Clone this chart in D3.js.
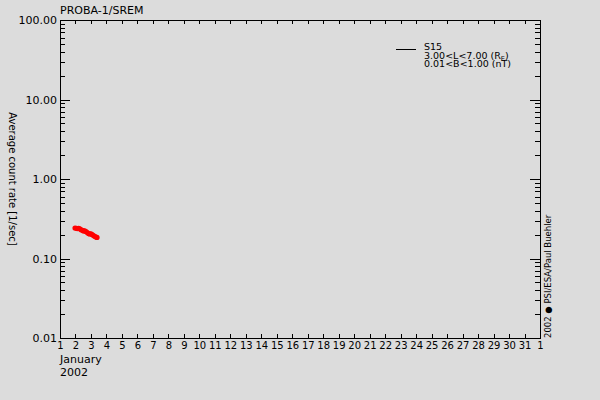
<!DOCTYPE html>
<html>
<head>
<meta charset="utf-8">
<script src="https://cdn.jsdelivr.net/npm/d3@7"></script>
<style>
  body { margin: 0; background: #dcdcdc; }
  text { font-family: "DejaVu Sans", sans-serif; fill: #000; }
</style>
</head>
<body>
<script>
// Data
var days  = [1.97, 2.05, 2.12, 2.2, 2.28, 2.36, 2.44, 2.52, 2.6, 2.68, 2.76, 2.84, 2.92, 3.0, 3.08, 3.16, 3.24, 3.32, 3.39];
var rates = [0.242, 0.240, 0.238, 0.240, 0.236, 0.230, 0.226, 0.222, 0.222, 0.218, 0.212, 0.206, 0.204, 0.204, 0.200, 0.194, 0.190, 0.186, 0.184];
var dayTicks = d3.range(1, 33);
var dayLabels = d3.range(1, 32).map(String).concat(["1"]);
var rateTicks = [0.01, 0.1, 1, 10, 100];
var rateLabels = ["0.01", "0.10", "1.00", "10.00", "100.00"];
var legendLines = ["S15", "3.00<L<7.00 (R", "0.01<B<1.00 (nT)"];

var width = 600;
var height = 400;
var plotLeft = 60, plotRight = 540, plotTop = 20, plotBottom = 338;

var svg = d3.select("body")
  .append("svg")
  .attr("width", width)
  .attr("height", height);

svg.append("rect").attr("width", width).attr("height", height).attr("fill", "#dcdcdc");

var x = d3.scaleLinear().domain([1, 32]).range([plotLeft, plotRight]);
var y = d3.scaleLog().domain([0.01, 100]).range([plotBottom, plotTop]);

// minor log ticks
var minor = [];
for (var d = 0.01; d < 100; d *= 10) {
  for (var k = 2; k <= 9; k++) minor.push(+(d * k).toPrecision(3));
}

var g = svg.append("g").attr("shape-rendering", "crispEdges");

// bottom axis
g.append("g")
  .attr("class", "xaxis")
  .attr("transform", "translate(0," + plotBottom + ")")
  .call(d3.axisBottom(x).tickValues(dayTicks).tickSize(-4).tickPadding(4)
    .tickFormat(function(d, i) { return dayLabels[i]; }))
  .call(function(a) { a.select(".domain").remove(); });

// top axis
g.append("g")
  .attr("transform", "translate(0," + plotTop + ")")
  .call(d3.axisTop(x).tickValues(dayTicks).tickSize(-4).tickFormat(""))
  .call(function(a) { a.select(".domain").remove(); });

// left axis
g.append("g")
  .attr("class", "yaxis")
  .attr("transform", "translate(" + plotLeft + ",0)")
  .call(d3.axisLeft(y).tickValues(rateTicks).tickSize(-10).tickPadding(3)
    .tickFormat(function(d, i) { return rateLabels[i]; }))
  .call(function(a) { a.select(".domain").remove(); });
g.append("g")
  .attr("transform", "translate(" + plotLeft + ",0)")
  .call(d3.axisLeft(y).tickValues(minor).tickSize(-5).tickFormat(""))
  .call(function(a) { a.select(".domain").remove(); });

// right axis
g.append("g")
  .attr("transform", "translate(" + plotRight + ",0)")
  .call(d3.axisRight(y).tickValues(rateTicks).tickSize(-10).tickFormat(""))
  .call(function(a) { a.select(".domain").remove(); });
g.append("g")
  .attr("transform", "translate(" + plotRight + ",0)")
  .call(d3.axisRight(y).tickValues(minor).tickSize(-5).tickFormat(""))
  .call(function(a) { a.select(".domain").remove(); });

svg.selectAll(".yaxis .tick text").attr("font-size", 11);
svg.selectAll(".xaxis .tick text").attr("font-size", 10);
svg.selectAll(".tick text").attr("font-family", "DejaVu Sans").attr("fill", "#000");
svg.selectAll(".tick line").attr("stroke", "#000");

// frame
g.append("rect")
  .attr("x", plotLeft).attr("y", plotTop)
  .attr("width", plotRight - plotLeft).attr("height", plotBottom - plotTop)
  .attr("fill", "none").attr("stroke", "#000");

// data
svg.append("g").selectAll("circle")
  .data(days)
  .enter()
  .append("circle")
  .attr("cx", function(d) { return x(d); })
  .attr("cy", function(d, i) { return y(rates[i]); })
  .attr("r", 2.6)
  .attr("fill", "#ff0000");

// texts
svg.append("text").attr("x", 60).attr("y", 14).attr("font-size", 11).text("PROBA-1/SREM");
svg.append("text").attr("x", 60).attr("y", 363).attr("font-size", 11).text("January");
svg.append("text").attr("x", 60).attr("y", 376).attr("font-size", 11).text("2002");

svg.append("text")
  .attr("transform", "translate(9,179) rotate(90)")
  .attr("text-anchor", "middle")
  .attr("font-size", 10)
  .text("Average count rate [1/sec]");

svg.append("text")
  .attr("transform", "translate(551,338) rotate(-90)")
  .attr("font-size", 8.5)
  .text("2002 \u25CF PSI/ESA/Paul Buehler");

// legend
svg.append("line")
  .attr("x1", 396).attr("x2", 416).attr("y1", 49.5).attr("y2", 49.5)
  .attr("shape-rendering", "crispEdges")
  .attr("stroke", "#000");
var leg = svg.append("g");
leg.selectAll("text")
  .data(legendLines)
  .enter()
  .append("text")
  .attr("x", 424)
  .attr("y", function(d, i) { return 50 + i * 8.5; })
  .attr("font-size", 9.5)
  .each(function(d, i) {
    var t = d3.select(this);
    if (i === 1) {
      t.append("tspan").text(d);
      t.append("tspan").attr("font-size", 6.5).attr("dy", 2).text("E");
      t.append("tspan").attr("dy", -2).text(")");
    } else {
      t.text(d);
    }
  });
</script>
</body>
</html>
